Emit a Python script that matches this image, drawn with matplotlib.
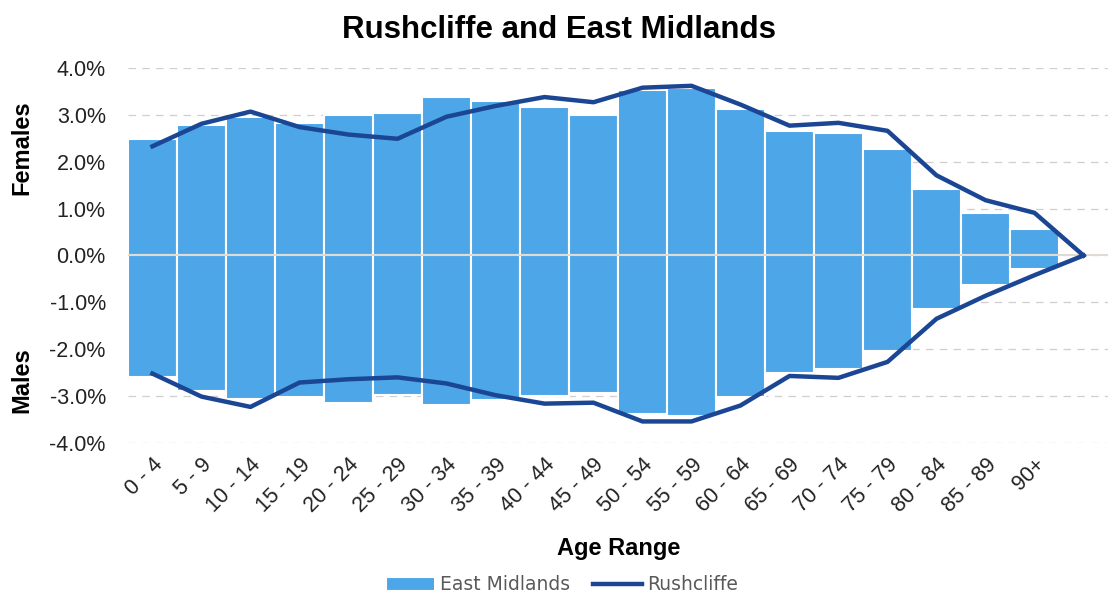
import matplotlib.pyplot as plt
from matplotlib.ticker import FuncFormatter

# age bands (last slot is an empty one so the line can close at zero)
ages = ['0 - 4', '5 - 9', '10 - 14', '15 - 19', '20 - 24', '25 - 29', '30 - 34',
        '35 - 39', '40 - 44', '45 - 49', '50 - 54', '55 - 59', '60 - 64',
        '65 - 69', '70 - 74', '75 - 79', '80 - 84', '85 - 89', '90+', '']

# East Midlands (% of population)
em_females = [2.49, 2.79, 2.95, 2.83, 3.00, 3.04, 3.39, 3.30, 3.16, 3.00,
              3.54, 3.58, 3.13, 2.66, 2.62, 2.27, 1.42, 0.91, 0.57, 0.0]
em_males = [-2.59, -2.89, -3.06, -3.01, -3.14, -2.97, -3.18, -3.09, -2.99, -2.94,
            -3.39, -3.43, -3.01, -2.50, -2.42, -2.03, -1.14, -0.62, -0.28, 0.0]

# Rushcliffe (% of population)
rc_females = [2.33, 2.81, 3.07, 2.74, 2.58, 2.49, 2.96, 3.19, 3.38, 3.27,
              3.58, 3.62, 3.22, 2.77, 2.83, 2.66, 1.71, 1.18, 0.91, 0.0]
rc_males = [-2.52, -3.01, -3.23, -2.71, -2.64, -2.60, -2.73, -2.98, -3.16, -3.14,
            -3.54, -3.54, -3.20, -2.57, -2.61, -2.27, -1.35, -0.86, -0.42, 0.0]

bar_col = '#4DA6E8'
line_col = '#1B4694'

plt.rcParams['font.family'] = ['Liberation Sans', 'DejaVu Sans']

fig = plt.figure(figsize=(11.08, 5.97), dpi=100)
ax = fig.add_axes([128 / 1108, 1 - 443 / 597, 980 / 1108, 375 / 597])

x = list(range(len(ages)))
bars = ax.bar(x, em_females, width=1.0, color=bar_col, edgecolor='white', linewidth=1.5,
              zorder=2)
ax.bar(x, em_males, width=1.0, color=bar_col, edgecolor='white', linewidth=1.5, zorder=2)
line, = ax.plot(x, rc_females, color=line_col, linewidth=3.2, zorder=3)
ax.plot(x, rc_males, color=line_col, linewidth=3.2, zorder=3)
ax.axhline(0, color='#D9D4C8', linewidth=1.2, zorder=2.5)

ax.set_xlim(-0.5, len(ages) - 0.5)
ax.set_ylim(-4, 4)
ax.set_yticks([-4, -3, -2, -1, 0, 1, 2, 3, 4])
ax.yaxis.set_major_formatter(FuncFormatter(lambda v, p: f'{v:.1f}%'))
ax.grid(axis='y', color='#CFCFCF', linestyle=(0, (6, 5)), linewidth=0.9, zorder=0)
ax.set_xticks(x)
ax.set_xticklabels(ages, rotation=45, ha='right', rotation_mode='anchor')
ax.tick_params(axis='both', length=0, labelsize=15.5, colors='#222222')
ax.tick_params(axis='y', pad=16)
ax.tick_params(axis='x', pad=8)
for s in ax.spines.values():
    s.set_visible(False)

fig.text(559 / 1108, 1 - 30 / 597, 'Rushcliffe and East Midlands', ha='center', va='center',
         fontsize=22.5, fontweight='bold')
fig.text(22 / 1108, 1 - 148 / 597, 'Females', rotation=90, ha='center', va='center',
         fontsize=17, fontweight='bold')
fig.text(22 / 1108, 1 - 380 / 597, 'Males', rotation=90, ha='center', va='center',
         fontsize=17, fontweight='bold')
fig.text(619 / 1108, 1 - 549 / 597, 'Age Range', ha='center', va='center',
         fontsize=17, fontweight='bold')

leg = fig.legend([bars, line], ['East Midlands', 'Rushcliffe'], loc='center',
                 bbox_to_anchor=(562 / 1108, 1 - 585 / 597), ncol=2,
                 frameon=False, prop={'family': 'DejaVu Sans', 'size': 13.5},
                 handlelength=2.6, handletextpad=0.3, columnspacing=1.2,
                 borderaxespad=0)
for t in leg.get_texts():
    t.set_color('#595959')

fig.savefig('out.png', dpi=100)
